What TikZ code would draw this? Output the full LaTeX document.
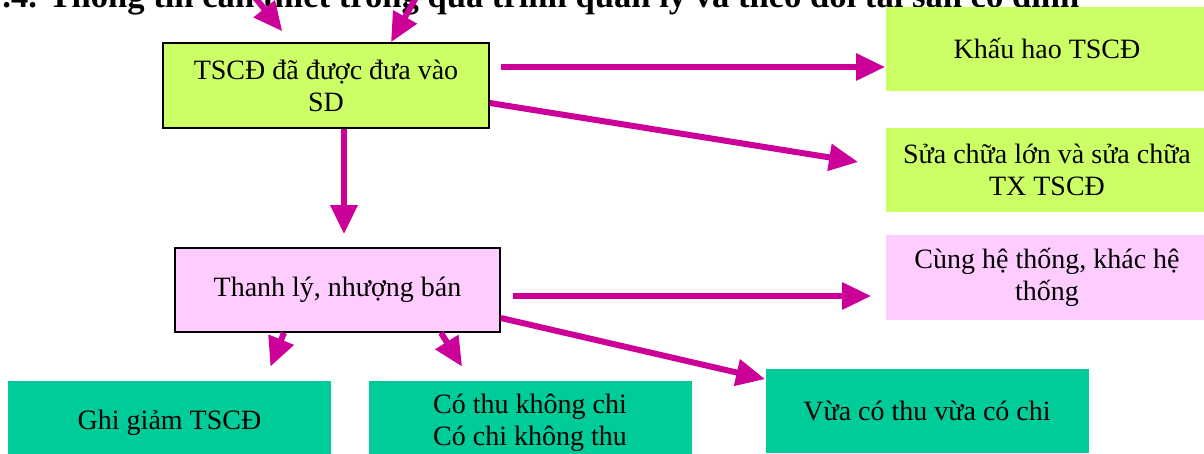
\documentclass[tikz,border=0pt]{standalone}
\usepackage{fontspec}
\setmainfont{Liberation Serif}
\usetikzlibrary{arrows.meta}
\definecolor{limeg}{HTML}{CCFF66}
\definecolor{pinkl}{HTML}{FFCCFF}
\definecolor{tealg}{HTML}{00CC99}
\definecolor{magen}{HTML}{CC0099}
\tikzset{
    mynode/.style = {rectangle, inner sep=0pt, minimum width=161.5pt, minimum height=42pt, align=center, font=\fontsize{14}{16}\selectfont, text=black},
    mynodel/.style = {mynode, draw=black, line width=0.8pt, fill=limeg},
    mynodeln/.style = {mynode, fill=limeg},
    mynodep/.style = {mynode, draw=black, line width=0.8pt, fill=pinkl},
    mynodepn/.style = {mynode, fill=pinkl},
    mynodet/.style = {mynode, fill=tealg},
    titlenode/.style = {inner sep=0pt, font=\fontsize{17.3}{20}\selectfont\bfseries, text=black},
    edgem/.style = {-{Triangle[length=14.5pt,width=13pt]}, line width=3pt, magen}
}

\begin{document}
\begin{tikzpicture}[x=0.5pt, y=-0.5pt]
\useasboundingbox (0,0) rectangle (1204,454);
\clip (0,0) rectangle (1204,454);

\node[titlenode, anchor=base west] at (2, 8) (title) {.4. Thông tin cần thiết trong quá trình quản lý và theo dõi tài sản cố định};

\node[mynodel, minimum width=163pt, minimum height=42.5pt] at ( 326.0,  85.5) (dua) {TSCĐ đã được đưa vào\\SD};
\node[mynodeln] at (1047.0,  49.0) (khauhao) {Khấu hao TSCĐ};
\node[mynodeln] at (1047.0, 170.0) (suachua) {Sửa chữa lớn và sửa chữa\\TX TSCĐ};
\node[mynodep, minimum width=162.5pt] at ( 337.5, 290.0) (thanhly) {Thanh lý, nhượng bán};
\node[mynodepn] at (1047.0, 277.5) (cunght) {Cùng hệ thống, khác hệ\\thống};
\node[mynodet] at ( 927.0, 410.5) (vuaco) {Vừa có thu vừa có chi};
\node[mynodet] at ( 169.5, 423.0) (ghigiam) {Ghi giảm TSCĐ};
\node[mynodet] at ( 530.0, 423.0) (cothu) {Có thu không chi\\Có chi không thu};

\coordinate (in1) at (245, -15);
\coordinate (in2) at (423, -15);

\draw[edgem, shorten >=7pt] (in1) -- (dua);
\draw[edgem] (in2) -- ([xshift=32.5pt]dua.north);
\draw[edgem] ([xshift=5.5pt,yshift=9.25pt]dua.east) -- ([yshift=-9pt]khauhao.west);
\draw[edgem] ([yshift=-8.75pt]dua.east) -- ([xshift=-13.5pt,yshift=4pt]suachua.west);
\draw[edgem] ([xshift=9pt]dua.south) -- ([xshift=3.25pt,yshift=6.5pt]thanhly.north);
\draw[edgem] ([xshift=6pt,yshift=-3pt]thanhly.east) -- ([xshift=-7pt,yshift=-9.25pt]cunght.west);
\draw[edgem] ([yshift=-14pt]thanhly.east) -- ([yshift=-5.5pt]vuaco.north west);
\draw[edgem] ([xshift=-26.75pt]thanhly.south) -- ([xshift=-30.5pt,yshift=7pt]ghigiam.north east);
\draw[edgem] ([xshift=51.75pt]thanhly.south) -- ([xshift=47pt,yshift=7pt]cothu.north west);

\end{tikzpicture}
\end{document}
